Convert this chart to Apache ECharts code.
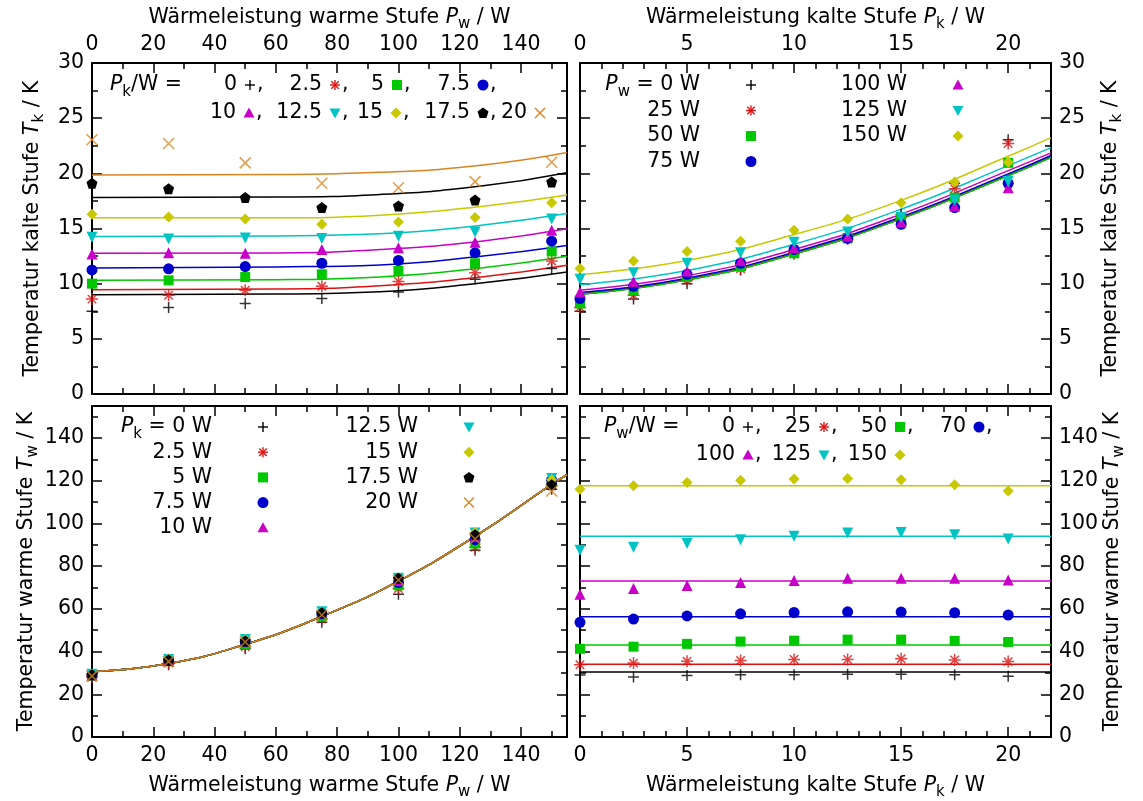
<!DOCTYPE html>
<html>
<head>
<meta charset="utf-8">
<script src="https://cdn.jsdelivr.net/npm/echarts@6/dist/echarts.min.js"></script>
</head>
<body style="margin:0">
<div id="main" style="width:1143px;height:801px;"></div>
<script type="text/javascript">
// P_w: Heizleistung warme Stufe, P_k: Heizleistung kalte Stufe
var pwValues = [0, 25, 50, 75, 100, 125, 150];
var pkValues = [0, 2.5, 5, 7.5, 10, 12.5, 15, 17.5, 20];

// gemessene T_k in K, eine Zeile je P_w, Spalten wie pkValues
var tkPw0   = [7.5, 8.6, 10.0, 11.25, 12.7, 14.2, 16.3, 19.1, 23.05];
var tkPw25  = [7.85, 8.95, 10.3, 11.35, 12.8, 14.05, 16.05, 18.6, 22.7];
var tkPw50  = [8.2, 9.4, 10.6, 11.55, 12.75, 14.15, 15.85, 17.8, 20.95];
var tkPw75  = [8.65, 9.76, 10.85, 11.85, 13.1, 14.1, 15.38, 16.9, 19.1];
var tkPw100 = [9.25, 10.2, 11.15, 12.1, 13.25, 14.3, 15.6, 17.05, 18.7];
var tkPw125 = [10.4, 11.0, 11.85, 12.8, 13.75, 14.68, 16.0, 17.58, 19.25];
var tkPw150 = [11.38, 12.06, 12.92, 13.85, 14.85, 15.86, 17.33, 19.22, 21.0];

// gemessene T_w in K, gleiche Anordnung
var twPw0   = [29.0, 28.1, 28.8, 29.1, 29.1, 29.4, 29.4, 29.1, 28.5];
var twPw25  = [33.8, 34.6, 35.5, 35.8, 36.3, 36.3, 36.6, 36.1, 35.3];
var twPw50  = [41.3, 42.3, 43.6, 44.7, 45.1, 45.6, 45.6, 45.0, 44.5];
var twPw75  = [53.7, 55.2, 56.7, 57.7, 58.3, 58.6, 58.5, 58.2, 57.1];
var twPw100 = [66.8, 69.5, 71.0, 72.3, 73.3, 74.3, 74.3, 74.3, 73.5];
var twPw125 = [87.4, 88.8, 90.6, 92.4, 94.0, 95.5, 95.8, 94.7, 92.7];
var twPw150 = [116.0, 117.7, 119.2, 120.2, 120.8, 121.1, 120.5, 118.1, 115.2];

// Fitkurven oben links (T_k ueber P_w), je P_k
var fitPwTL = [0, 60, 94, 127, 155];
var tlFitPk0   = [9.0, 9.06, 9.27, 10.06, 11.06];
var tlFitPk2_5 = [9.45, 9.52, 9.82, 10.61, 11.67];
var tlFitPk5   = [10.3, 10.36, 10.61, 11.42, 12.48];
var tlFitPk7_5 = [11.42, 11.52, 11.7, 12.48, 13.45];
var tlFitPk10  = [12.76, 12.79, 13.09, 13.85, 14.97];
var tlFitPk12_5 = [14.27, 14.33, 14.52, 15.3, 16.36];
var tlFitPk15  = [15.97, 15.97, 16.21, 17.0, 18.03];
var tlFitPk17_5 = [17.82, 17.85, 18.09, 18.85, 20.06];
var tlFitPk20  = [19.85, 19.89, 20.09, 20.73, 21.88];

// Fitkurven oben rechts (T_k ueber P_k), je P_w
var fitPkTR = [0, 5, 10, 15, 20, 22];
var trFitPw0   = [9.05, 10.35, 12.7, 15.9, 19.8, 21.45];
var trFitPw25  = [9.07, 10.37, 12.72, 15.92, 19.82, 21.47];
var trFitPw50  = [9.03, 10.33, 12.68, 15.88, 19.78, 21.43];
var trFitPw75  = [9.2, 10.5, 12.85, 16.05, 19.95, 21.62];
var trFitPw100 = [9.4, 10.72, 13.1, 16.3, 20.25, 21.85];
var trFitPw125 = [9.9, 11.2, 13.58, 16.75, 20.7, 22.33];
var trFitPw150 = [10.82, 12.1, 14.45, 17.55, 21.55, 23.24];

// Fitkurve unten links (T_w ueber P_w), fuer alle P_k gleich
var fitPwBL = [0, 25, 50, 75, 100, 125, 150, 155];
var blFit = [30.6, 34.4, 43.4, 56.5, 73.0, 94.0, 118.3, 122.8];

// Fitgeraden unten rechts (T_w konstant ueber P_k), je P_w
var fitPkBR = [0, 22];
var brFitLevels = [30.4, 34.1, 43.1, 56.3, 73.0, 94.0, 117.7];

// Achsenbeschriftung
var pwTicks = [0, 20, 40, 60, 80, 100, 120, 140];
var pkTicks = [0, 5, 10, 15, 20];
var tkTicks = [0, 5, 10, 15, 20, 25, 30];
var twTicks = [0, 20, 40, 60, 80, 100, 120, 140];

// Legendentexte
var tlKeys = ['0', '2.5', '5', '7.5', '10', '12.5', '15', '17.5', '20'];
var trKeys = ['0 W', '25 W', '50 W', '75 W', '100 W', '125 W', '150 W'];
var blKeys = ['0 W', '2.5 W', '5 W', '7.5 W', '10 W', '12.5 W', '15 W', '17.5 W', '20 W'];
var brKeys = ['0', '25', '50', '70', '100', '125', '150'];

var tkRows = [tkPw0, tkPw25, tkPw50, tkPw75, tkPw100, tkPw125, tkPw150];
var twRows = [twPw0, twPw25, twPw50, twPw75, twPw100, twPw125, twPw150];
var tlFits = [tlFitPk0, tlFitPk2_5, tlFitPk5, tlFitPk7_5, tlFitPk10, tlFitPk12_5, tlFitPk15, tlFitPk17_5, tlFitPk20];
var trFits = [trFitPw0, trFitPw25, trFitPw50, trFitPw75, trFitPw100, trFitPw125, trFitPw150];

var FONT = 'DejaVu Sans';
var FS = 20.5;
var RED = '#dd1111', GREEN = '#00c800', BLUE = '#0000cc', MAG = '#c800c8',
    CYAN = '#00c4c4', YEL = '#c8c800', ORA = '#d98420';

// Stil je Kurvennummer (gnuplot-Reihenfolge)
var styles = [
    {color: '#000', kind: 'plus'},
    {color: RED, kind: 'star'},
    {color: GREEN, kind: 'rect'},
    {color: BLUE, kind: 'circle'},
    {color: MAG, kind: 'up'},
    {color: CYAN, kind: 'down'},
    {color: YEL, kind: 'diamond'},
    {color: '#000', kind: 'pent'},
    {color: ORA, kind: 'cross'}
];

var symbolDefs = {
    plus:    {symbol: 'path://M0,5L10,5M5,0L5,10', size: 11, stroke: true},
    star:    {symbol: 'path://M0,5L10,5M5,0L5,10M1.5,1.5L8.5,8.5M8.5,1.5L1.5,8.5', size: 12, stroke: true},
    cross:   {symbol: 'path://M0,0L10,10M10,0L0,10', size: 11, stroke: true},
    rect:    {symbol: 'rect', size: 10},
    circle:  {symbol: 'circle', size: 11},
    up:      {symbol: 'triangle', size: 11},
    down:    {symbol: 'triangle', size: 11, rotate: 180},
    diamond: {symbol: 'diamond', size: [11, 11]},
    pent:    {symbol: 'path://M5,0L10,3.6L8.1,9.5L1.9,9.5L0,3.6Z', size: 11}
};

var nameRich = {
    i: {fontFamily: FONT, fontSize: FS, fontStyle: 'italic', color: '#000'},
    s: {fontFamily: FONT, fontSize: 15, color: '#000', padding: [14, 0, 0, 0]}
};

function tickFormatter(list) {
    return function (v) { return list.indexOf(v) >= 0 ? String(v) : ''; };
}

function valueAxis(o) {
    return {
        type: 'value', gridIndex: o.grid, position: o.pos,
        min: o.min, max: o.max, interval: o.step,
        name: o.name || '', nameLocation: 'middle', nameGap: o.gap || 0,
        nameTextStyle: {fontFamily: FONT, fontSize: FS, color: '#000', rich: nameRich},
        axisLine: {show: true, onZero: false, lineStyle: {color: '#000', width: 2}},
        axisTick: {show: true, inside: true, length: 10, lineStyle: {color: '#000', width: 1.5}},
        minorTick: {show: true, splitNumber: o.minor, length: 6, lineStyle: {color: '#000', width: 1.5}},
        axisLabel: {show: !!o.labels, margin: 8, color: '#000', fontFamily: FONT, fontSize: FS,
            formatter: o.labels ? tickFormatter(o.labels) : ''},
        splitLine: {show: false},
        minorSplitLine: {show: false}
    };
}

var titlePw = 'Wärmeleistung warme Stufe {i|P}{s|w} / W';
var titlePk = 'Wärmeleistung kalte Stufe {i|P}{s|k} / W';
var titleTk = 'Temperatur kalte Stufe {i|T}{s|k} / K';
var titleTw = 'Temperatur warme Stufe {i|T}{s|w} / K';

var grids = [
    {left: 92, top: 63, width: 475, height: 331},
    {left: 580, top: 63, width: 471, height: 331},
    {left: 92, top: 406, width: 475, height: 333},
    {left: 580, top: 406, width: 471, height: 333}
];

var xAxes = [
    valueAxis({grid: 0, pos: 'top', min: 0, max: 155, step: 20, minor: 2, labels: pwTicks, name: titlePw, gap: 31}),
    valueAxis({grid: 0, pos: 'bottom', min: 0, max: 155, step: 20, minor: 2}),
    valueAxis({grid: 1, pos: 'top', min: 0, max: 22, step: 5, minor: 5, labels: pkTicks, name: titlePk, gap: 31}),
    valueAxis({grid: 1, pos: 'bottom', min: 0, max: 22, step: 5, minor: 5}),
    valueAxis({grid: 2, pos: 'top', min: 0, max: 155, step: 20, minor: 2}),
    valueAxis({grid: 2, pos: 'bottom', min: 0, max: 155, step: 20, minor: 2, labels: pwTicks, name: titlePw, gap: 34}),
    valueAxis({grid: 3, pos: 'top', min: 0, max: 22, step: 5, minor: 5}),
    valueAxis({grid: 3, pos: 'bottom', min: 0, max: 22, step: 5, minor: 5, labels: pkTicks, name: titlePk, gap: 34})
];
var yAxes = [
    valueAxis({grid: 0, pos: 'left', min: 0, max: 30, step: 5, minor: 2, labels: tkTicks, name: titleTk, gap: 45}),
    valueAxis({grid: 0, pos: 'right', min: 0, max: 30, step: 5, minor: 2}),
    valueAxis({grid: 1, pos: 'left', min: 0, max: 30, step: 5, minor: 2}),
    valueAxis({grid: 1, pos: 'right', min: 0, max: 30, step: 5, minor: 2, labels: tkTicks, name: titleTk, gap: 45}),
    valueAxis({grid: 2, pos: 'left', min: 0, max: 155, step: 20, minor: 2, labels: twTicks, name: titleTw, gap: 45}),
    valueAxis({grid: 2, pos: 'right', min: 0, max: 155, step: 20, minor: 2}),
    valueAxis({grid: 3, pos: 'left', min: 0, max: 155, step: 20, minor: 2}),
    valueAxis({grid: 3, pos: 'right', min: 0, max: 155, step: 20, minor: 2, labels: twTicks, name: titleTw, gap: 45})
];

function fitLine(g, xs, ys, color) {
    return {
        type: 'line', xAxisIndex: 2 * g, yAxisIndex: 2 * g,
        data: xs.map(function (x, i) { return [x, ys[i]]; }),
        smooth: 0.5, showSymbol: false, silent: true, z: 2,
        lineStyle: {color: color, width: 1.5}
    };
}

function points(g, data, st) {
    var d = symbolDefs[st.kind];
    return {
        type: 'scatter', xAxisIndex: 2 * g, yAxisIndex: 2 * g, data: data,
        symbol: d.symbol, symbolSize: d.size, symbolRotate: d.rotate || 0, silent: true, z: 3,
        itemStyle: d.stroke ? {color: 'rgba(0,0,0,0)', borderColor: st.color, borderWidth: 1.5}
                            : {color: st.color, borderWidth: 0, opacity: 1}
    };
}

var series = [];
// Fitkurven
tlFits.forEach(function (f, j) { series.push(fitLine(0, fitPwTL, f, styles[j].color)); });
trFits.forEach(function (f, i) { series.push(fitLine(1, fitPkTR, f, styles[i].color)); });
pkValues.forEach(function (pk, j) { series.push(fitLine(2, fitPwBL, blFit, styles[j].color)); });
brFitLevels.forEach(function (lvl, i) {
    series.push(fitLine(3, fitPkBR, fitPkBR.map(function () { return lvl; }), styles[i].color));
});
// Messpunkte
pkValues.forEach(function (pk, j) {
    series.push(points(0, pwValues.map(function (pw, i) { return [pw, tkRows[i][j]]; }), styles[j]));
});
pwValues.forEach(function (pw, i) {
    series.push(points(1, pkValues.map(function (pk, j) { return [pk, tkRows[i][j]]; }), styles[i]));
});
pkValues.forEach(function (pk, j) {
    series.push(points(2, pwValues.map(function (pw, i) { return [pw, twRows[i][j]]; }), styles[j]));
});
pwValues.forEach(function (pw, i) {
    series.push(points(3, pkValues.map(function (pk, j) { return [pk, twRows[i][j]]; }), styles[i]));
});

// Legenden im gnuplot-Stil
var graphic = [];
function keyText(x, y, text, align) {
    graphic.push({type: 'text', x: x, y: y, z: 20, silent: true,
        style: {text: text, align: align || 'right', verticalAlign: 'middle', fill: '#000',
            fontFamily: FONT, fontSize: FS, rich: nameRich}});
}
function keySym(kind, color, x, y) {
    var s = 5, ln = function (x1, y1, x2, y2) {
        return {type: 'line', shape: {x1: x + x1, y1: y + y1, x2: x + x2, y2: y + y2},
            style: {stroke: color, lineWidth: 1.4}, z: 20, silent: true};
    };
    var poly = function (pts) {
        return {type: 'polygon', shape: {points: pts.map(function (p) { return [x + p[0], y + p[1]]; })},
            style: {fill: color}, z: 20, silent: true};
    };
    if (kind === 'plus') { graphic.push(ln(-s, 0, s, 0), ln(0, -s, 0, s)); }
    if (kind === 'star') { graphic.push(ln(-s, 0, s, 0), ln(0, -s, 0, s), ln(-3.7, -3.7, 3.7, 3.7), ln(3.7, -3.7, -3.7, 3.7)); }
    if (kind === 'cross') { graphic.push(ln(-s, -s, s, s), ln(s, -s, -s, s)); }
    if (kind === 'rect') { graphic.push(poly([[-5, -5], [5, -5], [5, 5], [-5, 5]])); }
    if (kind === 'circle') { graphic.push({type: 'circle', shape: {cx: x, cy: y, r: 5.5}, style: {fill: color}, z: 20, silent: true}); }
    if (kind === 'up') { graphic.push(poly([[0, -5.5], [5.5, 4.5], [-5.5, 4.5]])); }
    if (kind === 'down') { graphic.push(poly([[0, 5.5], [5.5, -4.5], [-5.5, -4.5]])); }
    if (kind === 'diamond') { graphic.push(poly([[0, -5.5], [5.5, 0], [0, 5.5], [-5.5, 0]])); }
    if (kind === 'pent') { graphic.push(poly([[0, -5.5], [5.5, -1.5], [3.4, 5], [-3.4, 5], [-5.5, -1.5]])); }
}
function inlineKey(symX, y, label, st, comma) {
    keyText(symX - 13, y, label);
    keySym(st.kind, st.color, symX, y);
    if (comma) { keyText(symX + 7, y, ',', 'left'); }
}

// oben links
keyText(110, 85, '{i|P}{s|k}/W =', 'left');
[250, 335, 397, 483].forEach(function (sx, j) { inlineKey(sx, 85, tlKeys[j], styles[j], true); });
[249, 335, 396, 483, 540].forEach(function (sx, n) { inlineKey(sx, 113, tlKeys[n + 4], styles[n + 4], n < 4); });

// oben rechts
trKeys.forEach(function (label, i) {
    var col = i < 4 ? 0 : 1, row = col ? i - 4 : i;
    var y = 85 + row * 25.5;
    var text = i === 0 ? '{i|P}{s|w} = ' + label : label;
    keyText(col ? 907 : 700, y, text);
    keySym(styles[i].kind, styles[i].color, col ? 958 : 751, y);
});

// unten links
blKeys.forEach(function (label, j) {
    var col = j < 5 ? 0 : 1, row = col ? j - 5 : j;
    var y = 427 + row * 25.2;
    var text = j === 0 ? '{i|P}{s|k} = ' + label : label;
    keyText(col ? 418 : 212, y, text);
    keySym(styles[j].kind, styles[j].color, col ? 469 : 263, y);
});

// unten rechts
keyText(604, 427, '{i|P}{s|w}/W =', 'left');
[748, 824, 900, 979].forEach(function (sx, i) { inlineKey(sx, 427, brKeys[i], styles[i], true); });
[748, 824, 900].forEach(function (sx, n) { inlineKey(sx, 455, brKeys[n + 4], styles[n + 4], n < 2); });

var myChart = echarts.init(document.getElementById('main'));
var option = {
    backgroundColor: '#fff',
    animation: false,
    grid: grids,
    xAxis: xAxes,
    yAxis: yAxes,
    series: series,
    graphic: graphic
};
myChart.setOption(option);
</script>
</body>
</html>
